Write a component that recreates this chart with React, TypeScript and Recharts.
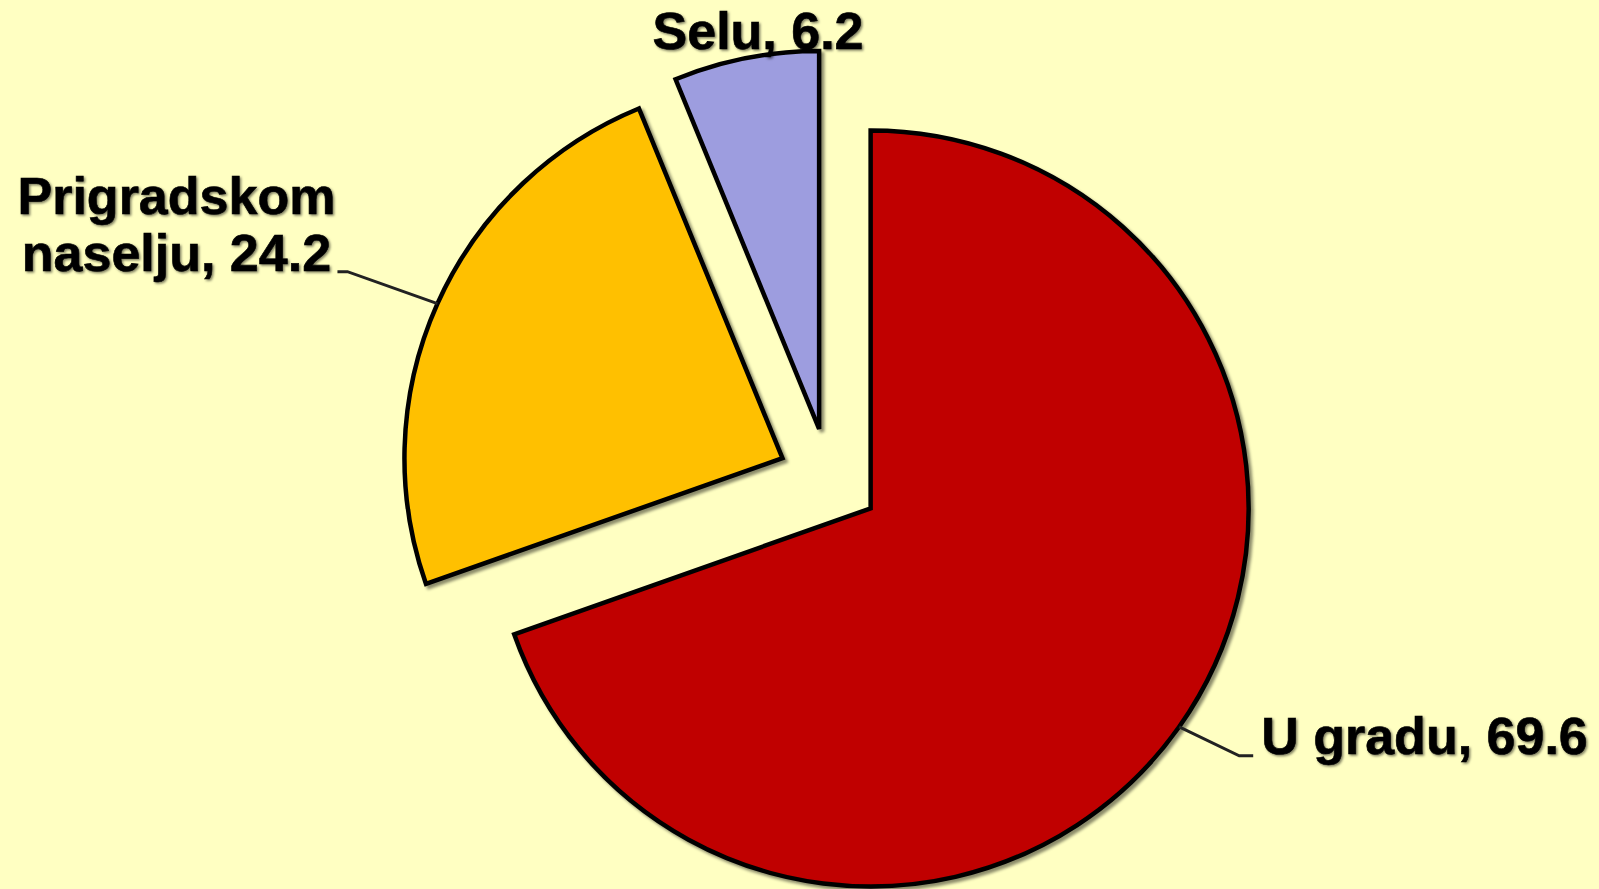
import { PieChart, Pie, Cell } from 'recharts'

const CATEGORIES = ['U gradu', 'Prigradskom naselju', 'Selu']
const VALUES = [69.6, 24.2, 6.2]
const COLORS = ['#C00000', '#FFC000', '#9D9DDF']

const WIDTH = 1599
const HEIGHT = 889
const CENTER_X = 829
const CENTER_Y = 479
const RADIUS = 378
const EXPLODE = 51
const FONT = '"Liberation Sans", Arial, sans-serif'

const data = CATEGORIES.map((name, i) => ({ name, value: VALUES[i] }))
const total = VALUES.reduce((a, b) => a + b, 0)

// mid angle of each slice in recharts degrees (slices run clockwise from 12 o'clock)
const midAngles = VALUES.map((v, i) => {
  const before = VALUES.slice(0, i).reduce((a, b) => a + b, 0)
  return 90 - ((before + v / 2) / total) * 360
})

const RAD = Math.PI / 180
const polar = (cx: number, cy: number, r: number, angle: number) => ({
  x: cx + Math.cos(-angle * RAD) * r,
  y: cy + Math.sin(-angle * RAD) * r,
})

const renderLabel = (k: number) => (props: any) => {
  const { cx, cy, midAngle, outerRadius, index } = props
  if (index !== k) return <g />
  const name = CATEGORIES[k]
  const value = VALUES[k]
  const textStyle = {
    fontFamily: FONT,
    fontWeight: 700,
    fontSize: 52,
    fill: '#000',
    stroke: '#000',
    strokeWidth: 0.6,
    filter: 'url(#txtShadow)',
  }
  if (k === 0) {
    const s = polar(cx, cy, outerRadius, midAngle)
    const e = { x: s.x + 60, y: s.y + 29 }
    return (
      <g>
        <polyline
          points={`${s.x},${s.y} ${e.x},${e.y} ${e.x + 14},${e.y}`}
          fill="none"
          stroke="#222"
          strokeWidth={3}
        />
        <text x={e.x + 22} y={e.y - 2} textAnchor="start" style={textStyle}>
          {`${name}, ${value}`}
        </text>
      </g>
    )
  }
  if (k === 1) {
    const s = polar(cx, cy, outerRadius, midAngle)
    const e = { x: s.x - 90, y: s.y - 32 }
    const words = name.split(' ')
    return (
      <g>
        <polyline
          points={`${s.x},${s.y} ${e.x},${e.y} ${e.x - 10},${e.y}`}
          fill="none"
          stroke="#222"
          strokeWidth={3}
        />
        <text x={e.x - 171} y={e.y - 58} textAnchor="middle" style={textStyle}>
          {words[0]}
        </text>
        <text x={e.x - 171} y={e.y - 1} textAnchor="middle" style={textStyle}>
          {`${words[1]}, ${value}`}
        </text>
      </g>
    )
  }
  const p = polar(cx, cy, outerRadius + 10, midAngle)
  return (
    <text x={p.x + 14} y={p.y + 1} textAnchor="middle" style={textStyle}>
      {`${name}, ${value}`}
    </text>
  )
}

export default function App() {
  return (
    <div
      style={{
        position: 'absolute',
        left: 0,
        top: 0,
        width: WIDTH,
        height: HEIGHT,
        background: '#FFFFC2',
      }}
    >
      <svg width={0} height={0} style={{ position: 'absolute' }}>
        <defs>
          <filter id="sliceShadow" x="-10%" y="-10%" width="120%" height="120%">
            <feDropShadow dx={3} dy={3} stdDeviation={1.5} floodColor="#000" floodOpacity={0.45} />
          </filter>
          <filter id="txtShadow" x="-10%" y="-20%" width="120%" height="140%">
            <feDropShadow dx={1.5} dy={1.5} stdDeviation={1.2} floodColor="#000" floodOpacity={0.5} />
          </filter>
        </defs>
      </svg>
      <PieChart width={WIDTH} height={HEIGHT} margin={{ top: 0, right: 0, bottom: 0, left: 0 }}>
        {VALUES.map((_, k) => {
          const off = polar(0, 0, EXPLODE, midAngles[k])
          return (
            <Pie
              key={CATEGORIES[k]}
              data={data}
              dataKey="value"
              nameKey="name"
              cx={CENTER_X + off.x}
              cy={CENTER_Y + off.y}
              outerRadius={RADIUS}
              startAngle={90}
              endAngle={-270}
              isAnimationActive={false}
              label={renderLabel(k)}
              labelLine={false}
            >
              {data.map((entry, i) =>
                i === k ? (
                  <Cell
                    key={entry.name}
                    fill={COLORS[i]}
                    stroke="#000"
                    strokeWidth={4.5}
                    filter="url(#sliceShadow)"
                  />
                ) : (
                  <Cell key={entry.name} fill="none" stroke="none" />
                ),
              )}
            </Pie>
          )
        })}
      </PieChart>
    </div>
  )
}
